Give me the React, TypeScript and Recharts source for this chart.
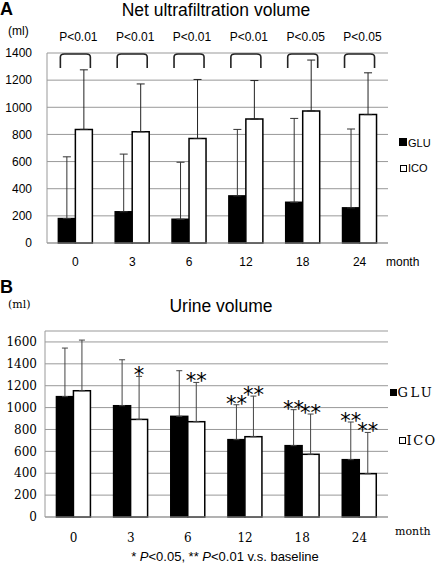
import React from 'react';
import { BarChart, Bar, XAxis, YAxis, CartesianGrid, ErrorBar } from 'recharts';

// ---------- data ----------
const months = ['0', '3', '6', '12', '18', '24'];
const seriesNames = ['GLU', 'ICO'];

// A: Net ultrafiltration volume (ml)
const netGlu = [180, 230, 175, 347, 300, 259];
const netGluSd = [455, 425, 420, 490, 618, 581];
const netIco = [837, 820, 770, 913, 973, 946];
const netIcoSd = [439, 352, 435, 284, 375, 308];
const netP = ['P<0.01', 'P<0.01', 'P<0.01', 'P<0.01', 'P<0.05', 'P<0.05'];
const netTicks = [0, 200, 400, 600, 800, 1000, 1200, 1400];
const NET_MAX = 1400;

// B: Urine volume (ml)
const urineGlu = [1100, 1017, 920, 707, 652, 524];
const urineGluSd = [444, 420, 417, 319, 329, 344];
const urineIco = [1154, 892, 871, 734, 573, 396];
const urineIcoSd = [463, 393, 359, 371, 368, 377];
const urineGluStars = ['', '', '', '**', '**', '**'];
const urineIcoStars = ['', '*', '**', '**', '**', '**'];
const urineTicks = [0, 200, 400, 600, 800, 1000, 1200, 1400, 1600];
const URINE_MAX = 1700;

const netData = months.map((m, i) => ({
  month: m,
  glu: netGlu[i],
  gluSd: netGluSd[i],
  ico: netIco[i],
  icoSd: netIcoSd[i],
  p: netP[i],
}));

const urineData = months.map((m, i) => ({
  month: m,
  glu: urineGlu[i],
  gluSd: urineGluSd[i],
  ico: urineIco[i],
  icoSd: urineIcoSd[i],
  gluStar: urineGluStars[i],
  icoStar: urineIcoStars[i],
}));

// ---------- styles ----------
const SANS = '"Liberation Sans", Arial, sans-serif';
const SERIF = '"DejaVu Serif", serif';
const GRID = '#999';

// ---------- shapes ----------
const NetGluShape = (props: any) => {
  const { x, y, width, height, payload } = props;
  const ppu = height / payload.glu;
  const top = y + height - NET_MAX * ppu;
  const x1 = x + 2;
  const x2 = x + 2 * width - 2;
  const legs = 15;
  return (
    <g>
      <rect x={x} y={y} width={width} height={height} fill="#000" stroke="#000" strokeWidth={1.5} />
      <path
        d={`M${x1},${top + legs} L${x1},${top + 4} Q${x1},${top + 1} ${x1 + 4},${top + 1} L${x2 - 4},${top + 1} Q${x2},${top + 1} ${x2},${top + 4} L${x2},${top + legs}`}
        fill="none"
        stroke="#222"
        strokeWidth={1.6}
      />
      <text x={x + width + 3} y={top - 12} textAnchor="middle" fontSize={12} fontFamily={SANS} fill="#000">
        {payload.p}
      </text>
    </g>
  );
};

const makeUrineShape = (key: string, sdKey: string, starKey: string, fill: string) => (props: any) => {
  const { x, y, width, height, payload } = props;
  const ppu = height / payload[key];
  const errTop = y - payload[sdKey] * ppu;
  return (
    <g>
      <rect x={x} y={y} width={width} height={height} fill={fill} stroke="#000" strokeWidth={1.5} />
      {payload[starKey] ? (
        <text
          x={x + width / 2}
          y={errTop + 6}
          textAnchor="middle"
          fontSize={21}
          fontFamily='"DejaVu Sans", sans-serif'
          fill="#000"
        >
          {payload[starKey]}
        </text>
      ) : null}
    </g>
  );
};

const UrineGluShape = makeUrineShape('glu', 'gluSd', 'gluStar', '#000');
const UrineIcoShape = makeUrineShape('ico', 'icoSd', 'icoStar', '#fff');

export default function App() {
  return (
    <div style={{ position: 'absolute', left: 0, top: 0, width: 437, height: 563, background: '#fff', overflow: 'hidden' }}>
      {/* Chart A */}
      <div style={{ position: 'absolute', left: 0, top: 0 }}>
        <BarChart
          width={437}
          height={280}
          data={netData}
          margin={{ top: 53, right: 49, bottom: 7, left: 0 }}
          barGap={0}
          barCategoryGap="20%"
        >
          <CartesianGrid vertical={false} stroke={GRID} />
          <XAxis
            dataKey="month"
            height={30}
            axisLine={{ stroke: GRID }}
            tickLine={false}
            tickSize={0}
            tickMargin={14}
            tick={{ fontSize: 12, fill: '#000', fontFamily: SANS }}
          />
          <YAxis
            width={47}
            domain={[0, NET_MAX]}
            ticks={netTicks}
            interval={0}
            axisLine={{ stroke: GRID }}
            tickLine={false}
            tickSize={0}
            tickMargin={15}
            tick={{ fontSize: 12, fill: '#000', fontFamily: SANS }}
          />
          <Bar dataKey="glu" name={seriesNames[0]} fill="#000" shape={NetGluShape} isAnimationActive={false}>
            <ErrorBar dataKey={(d: any) => [0, d.gluSd]} width={4} stroke="#333" strokeWidth={1} direction="y" />
          </Bar>
          <Bar dataKey="ico" name={seriesNames[1]} fill="#fff" stroke="#000" strokeWidth={1.5} isAnimationActive={false}>
            <ErrorBar dataKey={(d: any) => [0, d.icoSd]} width={4} stroke="#222" strokeWidth={1} direction="y" />
          </Bar>
        </BarChart>
      </div>

      {/* Chart B */}
      <div style={{ position: 'absolute', left: 0, top: 280 }}>
        <BarChart
          width={437}
          height={283}
          data={urineData}
          margin={{ top: 51, right: 49, bottom: 16, left: 0 }}
          barGap={0}
          barCategoryGap="20%"
        >
          <CartesianGrid vertical={false} stroke={GRID} />
          <XAxis
            dataKey="month"
            height={30}
            axisLine={{ stroke: GRID }}
            tickLine={false}
            tickSize={0}
            tickMargin={16}
            tick={{ fontSize: 12, fill: '#000', fontFamily: SERIF }}
          />
          <YAxis
            width={45}
            domain={[0, URINE_MAX]}
            ticks={urineTicks}
            interval={0}
            axisLine={{ stroke: GRID }}
            tickLine={false}
            tickSize={0}
            tickMargin={8}
            tick={{ fontSize: 12, fill: '#000', fontFamily: SERIF }}
          />
          <Bar dataKey="glu" name={seriesNames[0]} fill="#000" shape={UrineGluShape} isAnimationActive={false}>
            <ErrorBar dataKey={(d: any) => [0, d.gluSd]} width={3} stroke="#444" strokeWidth={1} direction="y" />
          </Bar>
          <Bar dataKey="ico" name={seriesNames[1]} fill="#fff" shape={UrineIcoShape} isAnimationActive={false}>
            <ErrorBar dataKey={(d: any) => [0, d.icoSd]} width={3} stroke="#444" strokeWidth={1} direction="y" />
          </Bar>
        </BarChart>
      </div>

      {/* Text overlay */}
      <svg width={437} height={563} style={{ position: 'absolute', left: 0, top: 0, pointerEvents: 'none' }}>
        <text x={0} y={15} fontSize={18} fontWeight="bold" fontFamily={SANS}>A</text>
        <text x={216} y={15.5} fontSize={17.5} textAnchor="middle" fontFamily={SANS}>Net ultrafiltration volume</text>
        <text x={8} y={35} fontSize={12} fontFamily={SANS}>(ml)</text>
        <text x={386} y={266} fontSize={12} fontFamily={SANS}>month</text>
        {/* legend A */}
        <rect x={399} y={138} width={8} height={8} fill="#000" />
        <text x={408} y={146.5} fontSize={11} fontFamily={SANS}>{seriesNames[0]}</text>
        <rect x={400.5} y={165.5} width={6} height={6} fill="#fff" stroke="#000" strokeWidth={1} />
        <text x={408} y={172} fontSize={11} fontFamily={SANS}>{seriesNames[1]}</text>

        <text x={0} y={293} fontSize={18} fontWeight="bold" fontFamily={SANS}>B</text>
        <text x={221} y={311.5} fontSize={17.5} textAnchor="middle" fontFamily={SANS}>Urine volume</text>
        <text x={8} y={308} fontSize={11} fontFamily={SERIF}>(ml)</text>
        <text x={395} y={535} fontSize={11} fontFamily={SERIF}>month</text>
        {/* legend B */}
        <rect x={390} y={389} width={7} height={7} fill="#000" />
        <text x={397.5} y={397} fontSize={13} letterSpacing={2.5} fontFamily={SERIF}>{seriesNames[0]}</text>
        <rect x={399.5} y={437.5} width={6} height={6} fill="#fff" stroke="#000" strokeWidth={1} />
        <text x={406.5} y={445} fontSize={13} letterSpacing={1.5} fontFamily={SERIF}>{seriesNames[1]}</text>

        <text x={225} y={561} fontSize={13} textAnchor="middle" fontFamily={SANS}>
          * <tspan fontStyle="italic">P</tspan>{'<0.05, ** '}
          <tspan fontStyle="italic">P</tspan>{'<0.01 v.s. baseline'}
        </text>
      </svg>
    </div>
  );
}
